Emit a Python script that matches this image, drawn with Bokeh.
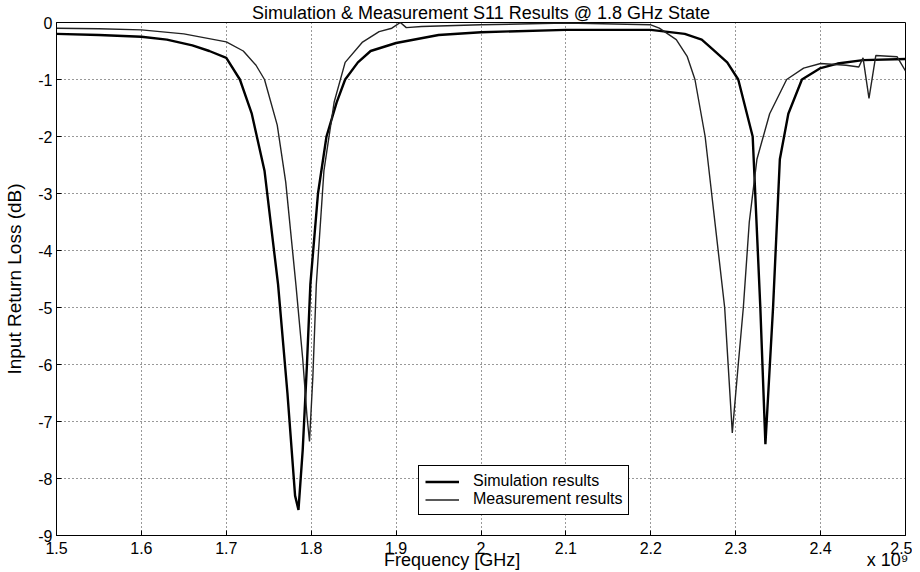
from bokeh.plotting import figure
from bokeh.models import Range1d, FixedTicker, Legend, LegendItem, LinearAxis
from bokeh.embed import file_html
from bokeh.resources import INLINE

# ---- data (frequency in GHz, return loss in dB) ----
f_sim = [1.50, 1.55, 1.60, 1.63, 1.66, 1.68, 1.70, 1.716, 1.73, 1.745, 1.761, 1.772,
         1.781, 1.785, 1.790, 1.795, 1.799, 1.808, 1.818, 1.830, 1.840, 1.855, 1.870,
         1.90, 1.95, 2.00, 2.10, 2.20, 2.24, 2.26, 2.273, 2.29, 2.303, 2.320, 2.329,
         2.335, 2.344, 2.352, 2.362, 2.378, 2.40, 2.42, 2.45, 2.50]
s_sim = [-0.20, -0.22, -0.25, -0.30, -0.40, -0.50, -0.62, -1.00, -1.60, -2.60, -4.60, -6.50,
         -8.30, -8.55, -7.50, -6.00, -4.60, -3.00, -2.00, -1.40, -1.00, -0.70, -0.50,
         -0.36, -0.22, -0.17, -0.13, -0.13, -0.20, -0.30, -0.47, -0.70, -1.00, -2.00, -5.00,
         -7.40, -5.00, -2.40, -1.60, -1.00, -0.80, -0.72, -0.66, -0.64]

f_meas = [1.50, 1.55, 1.60, 1.65, 1.70, 1.72, 1.735, 1.745, 1.76, 1.77, 1.782, 1.790,
          1.795, 1.798, 1.802, 1.806, 1.815, 1.827, 1.84, 1.86, 1.88, 1.895, 1.905, 1.912,
          1.93, 2.00, 2.10, 2.20, 2.21, 2.23, 2.243, 2.252, 2.264, 2.287, 2.296, 2.303,
          2.309, 2.316, 2.325, 2.34, 2.36, 2.38, 2.40, 2.43, 2.445, 2.450, 2.457, 2.465,
          2.49, 2.50]
s_meas = [-0.10, -0.11, -0.13, -0.20, -0.34, -0.50, -0.75, -1.00, -1.80, -2.80, -4.60, -5.90,
          -6.90, -7.35, -6.20, -4.60, -2.60, -1.40, -0.70, -0.35, -0.16, -0.10, 0.00, -0.09,
          -0.07, -0.04, -0.01, -0.04, -0.10, -0.30, -0.60, -1.00, -2.00, -5.00, -7.20, -6.00,
          -5.00, -3.50, -2.40, -1.60, -1.00, -0.80, -0.72, -0.75, -0.78, -0.62, -1.33, -0.58,
          -0.60, -0.85]

x_ticks = [1.5, 1.6, 1.7, 1.8, 1.9, 2.0, 2.1, 2.2, 2.3, 2.4, 2.5]
x_tick_labels = ["1.5", "1.6", "1.7", "1.8", "1.9", "2", "2.1", "2.2", "2.3", "2.4", "2.5"]
y_ticks = [0, -1, -2, -3, -4, -5, -6, -7, -8, -9]
y_tick_labels = ["0", "-1", "-2", "-3", "-4", "-5", "-6", "-7", "-8", "-9"]
bottom_texts = ["Frequency [GHz]", "x 10\u2079"]

FONT = "Liberation Sans"

p = figure(width=912, height=572, output_backend="svg", toolbar_location=None,
           x_range=Range1d(1.5, 2.5), y_range=Range1d(-9, 0),
           min_border_left=56, min_border_right=7, min_border_top=19,
           min_border_bottom=37,
           title="Simulation & Measurement S11 Results @ 1.8 GHz State")

p.title.align = "center"
p.title.text_font = FONT
p.title.text_font_size = "18px"
p.title.text_font_style = "normal"
p.title.text_color = "black"
p.title.standoff = 0

p.background_fill_color = "white"
p.border_fill_color = "white"
p.outline_line_color = "black"
p.outline_line_width = 1

p.xaxis.ticker = FixedTicker(ticks=x_ticks)
p.yaxis.ticker = FixedTicker(ticks=y_ticks)
p.xaxis.major_label_overrides = dict(zip(x_ticks, x_tick_labels))
p.yaxis.major_label_overrides = dict(zip(y_ticks, y_tick_labels))

for ax in (p.xaxis, p.yaxis):
    ax.major_tick_in = 5
    ax.major_tick_out = 0
    ax.minor_tick_in = 0
    ax.minor_tick_out = 0
    ax.axis_line_color = "black"
    ax.major_tick_line_color = "black"
    ax.major_label_text_font = FONT
    ax.major_label_text_font_size = "16px"
    ax.major_label_text_color = "black"
    ax.axis_label_text_font = FONT
    ax.axis_label_text_font_style = "normal"
    ax.axis_label_text_color = "black"

p.yaxis.axis_label = "Input Return Loss (dB)"
p.yaxis.axis_label_text_font_size = "19px"
p.xaxis.major_label_standoff = 6
p.yaxis.major_label_standoff = 4
p.yaxis.axis_label_standoff = 10

p.grid.grid_line_color = "black"
p.grid.grid_line_alpha = 0.8
p.grid.grid_line_dash = "1 3"
p.grid.grid_line_width = 1

# second, label-only axis below carrying the x label and the multiplier
p.extra_x_ranges = {"aux": Range1d(0, 1)}
aux_pos = [0.466, 0.979]
aux = LinearAxis(x_range_name="aux", ticker=FixedTicker(ticks=aux_pos),
                 major_label_overrides=dict(zip(aux_pos, bottom_texts)))
aux.axis_line_color = None
aux.major_tick_line_color = None
aux.minor_tick_line_color = None
aux.major_tick_in = 0
aux.major_tick_out = 0
aux.minor_tick_in = 0
aux.minor_tick_out = 0
aux.major_label_standoff = -7
aux.major_label_text_font = FONT
aux.major_label_text_font_size = "18px"
aux.major_label_text_color = "black"
p.add_layout(aux, "below")

r_sim = p.line(f_sim, s_sim, line_color="black", line_width=2.4)
r_meas = p.line(f_meas, s_meas, line_color="#222222", line_width=1.4)

legend = Legend(items=[LegendItem(label="Simulation results", renderers=[r_sim]),
                       LegendItem(label="Measurement results", renderers=[r_meas])],
                location=(362, 20))
legend.border_line_color = "black"
legend.border_line_width = 1
legend.border_line_alpha = 1
legend.background_fill_color = "white"
legend.background_fill_alpha = 1
legend.label_text_font = FONT
legend.label_text_font_size = "16px"
legend.label_text_color = "black"
legend.glyph_width = 34
legend.glyph_height = 17
legend.label_height = 17
legend.label_standoff = 14
legend.padding = 6
legend.spacing = 0
legend.margin = 0
p.add_layout(legend, "center")

open("out.html", "w").write(file_html(p, INLINE))
